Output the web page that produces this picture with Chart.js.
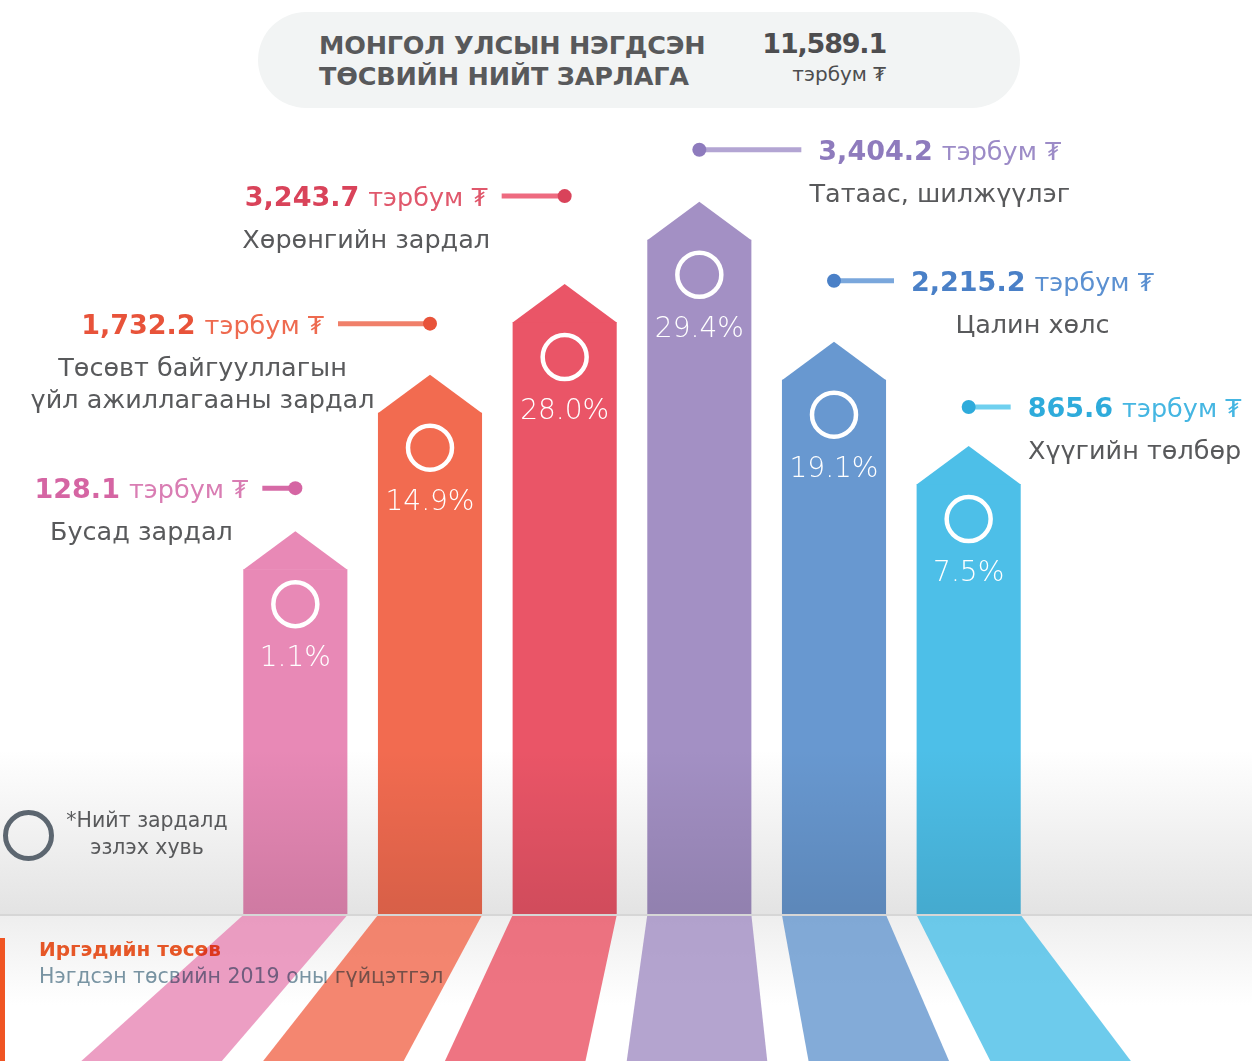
<!DOCTYPE html>
<html lang="mn">
<head>
    <meta charset="UTF-8">
    <title>Монгол улсын нэгдсэн төсвийн нийт зарлага</title>
    <script src="https://cdn.jsdelivr.net/npm/chart.js"></script>
    <style>
        body {
            margin: 0;
            background: #ffffff;
            font-family: "DejaVu Sans", sans-serif;
        }
        #wrap {
            position: relative;
            width: 1252px;
            height: 1061px;
            overflow: hidden;
        }
        #chart {
            position: absolute;
            left: 0;
            top: 0;
        }
        .header {
            position: absolute;
            left: 258px;
            top: 12px;
            width: 762px;
            height: 96px;
            border-radius: 48px;
            background: #f2f4f4;
        }
        .header .title {
            position: absolute;
            left: 61px;
            top: 18px;
            font-size: 25.5px;
            font-weight: bold;
            line-height: 31px;
            color: #58595b;
            letter-spacing: -0.2px;
        }
        .header .total {
            position: absolute;
            right: 134px;
            top: 16px;
            text-align: right;
            color: #4d4d4f;
        }
        .header .total b {
            display: block;
            font-size: 27px;
            letter-spacing: -1.2px;
        }
        .header .total span {
            display: block;
            font-size: 20px;
            margin-top: 3px;
        }
        .legend-ring {
            position: absolute;
            left: 3px;
            top: 810px;
            width: 41px;
            height: 41px;
            border: 5px solid #5c6670;
            border-radius: 50%;
        }
        .legend-text {
            position: absolute;
            left: 57px;
            top: 807px;
            width: 180px;
            text-align: center;
            font-size: 20.5px;
            line-height: 27px;
            color: #58595b;
        }
        .footer-bar {
            position: absolute;
            left: 0;
            top: 938px;
            width: 5px;
            height: 123px;
            background: #f05523;
        }
        .footer {
            position: absolute;
            left: 39px;
            top: 936px;
            mix-blend-mode: multiply;
        }
        .footer b {
            display: block;
            font-size: 20px;
            color: #f05a28;
            line-height: 27px;
        }
        .footer span {
            display: block;
            font-size: 20.5px;
            color: #7b97a6;
            line-height: 26px;
        }
    </style>
</head>
<body>
<div id="wrap">
    <canvas id="chart" width="1252" height="1061"></canvas>
    <div class="header">
        <div class="title">МОНГОЛ УЛСЫН НЭГДСЭН<br>ТӨСВИЙН НИЙТ ЗАРЛАГА</div>
        <div class="total"><b id="total"></b><span>тэрбум ₮</span></div>
    </div>
    <div class="legend-ring"></div>
    <div class="legend-text">*Нийт зардалд<br>эзлэх хувь</div>
    <div class="footer-bar"></div>
    <div class="footer">
        <b>Иргэдийн төсөв</b>
        <span>Нэгдсэн төсвийн 2019 оны гүйцэтгэл</span>
    </div>
</div>

<script>
    // data (тэрбум ₮)
    const totalSpending = 11589.1;
    const categories = [
        ['Бусад зардал'],
        ['Төсөвт байгууллагын', 'үйл ажиллагааны зардал'],
        ['Хөрөнгийн зардал'],
        ['Татаас, шилжүүлэг'],
        ['Цалин хөлс'],
        ['Хүүгийн төлбөр']
    ];
    const amounts = [128.1, 1732.2, 3243.7, 3404.2, 2215.2, 865.6];
    const shares = [1.1, 14.9, 28.0, 29.4, 19.1, 7.5];
    // bar heights as drawn in the infographic (not to scale with the share)
    const barLevels = [37.8, 54.9, 64.8, 73.8, 58.5, 47.1];
    const unitText = 'тэрбум ₮';

    // styles
    const barColors = ['#e889b6', '#f26b50', '#ea5567', '#a390c4', '#6898d0', '#4dbfe8'];
    const valueColors = ['#d565a3', '#e8533a', '#d9435a', '#8e7bbd', '#4a80c7', '#2eabdb'];
    const unitColors = ['#d97db3', '#ee6a4f', '#e0586c', '#9c8bc7', '#5b90d1', '#45b6e2'];
    const lineColors = ['#d66aa6', '#f0806a', '#ee6b80', '#b3a5d3', '#7aa7dc', '#6fd0ef'];
    const labelSide = ['left', 'left', 'left', 'right', 'right', 'right'];
    const labelLift = [43, 51, 88, 52, 61, 39];
    const lineLen = [33, 92, 63, 102, 60, 42];

    const fmt = v => v.toLocaleString('en-US', { minimumFractionDigits: 1, maximumFractionDigits: 1 });
    document.getElementById('total').textContent = fmt(totalSpending);

    const TIP = 38;          // arrow point height
    const VANISH_X = 706;    // perspective of the floor strips
    const SPREAD = 1.35;

    const infographic = {
        id: 'infographic',
        beforeDatasetsDraw(chart) {
            const ctx = chart.ctx;
            const base = chart.chartArea.bottom;
            const H = chart.height;
            ctx.save();
            // floor
            let g = ctx.createLinearGradient(0, base, 0, base + 90);
            g.addColorStop(0, '#eeeeee');
            g.addColorStop(1, '#ffffff');
            ctx.fillStyle = g;
            ctx.fillRect(0, base, chart.width, H - base);
            // floor strips
            const meta = chart.getDatasetMeta(0);
            meta.data.forEach((bar, i) => {
                const l = bar.x - bar.width / 2, r = bar.x + bar.width / 2;
                const k = 1 + (SPREAD - 1) * (H - base) / 146;
                ctx.globalAlpha = 0.82;
                ctx.fillStyle = barColors[i];
                ctx.beginPath();
                ctx.moveTo(l, base);
                ctx.lineTo(r, base);
                ctx.lineTo(VANISH_X + (r - VANISH_X) * k, H);
                ctx.lineTo(VANISH_X + (l - VANISH_X) * k, H);
                ctx.closePath();
                ctx.fill();
            });
            ctx.restore();
        },
        afterDatasetsDraw(chart) {
            const ctx = chart.ctx;
            const base = chart.chartArea.bottom;
            const meta = chart.getDatasetMeta(0);
            ctx.save();
            meta.data.forEach((bar, i) => {
                const l = bar.x - bar.width / 2, r = bar.x + bar.width / 2;
                // arrow head
                ctx.fillStyle = barColors[i];
                ctx.beginPath();
                ctx.moveTo(l, bar.y + 0.5);
                ctx.lineTo(bar.x, bar.y - TIP);
                ctx.lineTo(r, bar.y + 0.5);
                ctx.closePath();
                ctx.fill();
                // ring + share
                ctx.strokeStyle = '#ffffff';
                ctx.lineWidth = 4.5;
                ctx.beginPath();
                ctx.arc(bar.x, bar.y + 35, 22, 0, Math.PI * 2);
                ctx.stroke();
                ctx.fillStyle = '#ffffff';
                ctx.font = '200 28px "DejaVu Sans"';
                ctx.textAlign = 'center';
                ctx.textBaseline = 'middle';
                ctx.fillText(shares[i].toFixed(1) + '%', bar.x, bar.y + 90);
            });

            // shade toward the floor
            let g = ctx.createLinearGradient(0, base - 165, 0, base);
            g.addColorStop(0, '#ffffff');
            g.addColorStop(1, '#e3e3e3');
            ctx.globalCompositeOperation = 'multiply';
            ctx.fillStyle = g;
            ctx.fillRect(0, base - 165, chart.width, 165);
            ctx.globalCompositeOperation = 'source-over';
            ctx.fillStyle = '#d6d6d6';
            ctx.fillRect(0, base - 1, chart.width, 2);

            // value labels
            meta.data.forEach((bar, i) => {
                const dotY = bar.y - TIP - labelLift[i];
                const dir = labelSide[i] === 'left' ? -1 : 1;
                const lineEnd = bar.x + dir * lineLen[i];
                ctx.strokeStyle = lineColors[i];
                ctx.lineWidth = 5;
                ctx.beginPath();
                ctx.moveTo(bar.x, dotY);
                ctx.lineTo(lineEnd, dotY);
                ctx.stroke();
                ctx.fillStyle = valueColors[i];
                ctx.beginPath();
                ctx.arc(bar.x, dotY, 7, 0, Math.PI * 2);
                ctx.fill();

                const valueFont = 'bold 27px "DejaVu Sans"';
                const unitFont = '25.5px "DejaVu Sans"';
                const valueStr = fmt(amounts[i]);
                ctx.font = valueFont;
                const vw = ctx.measureText(valueStr).width;
                ctx.font = unitFont;
                const uw = ctx.measureText(unitText).width;
                const gap = 9;
                const total = vw + gap + uw;
                const startX = dir < 0 ? lineEnd - 14 - total : lineEnd + 17;
                const baseY = dotY + 10;
                ctx.textBaseline = 'alphabetic';
                ctx.textAlign = 'left';
                ctx.font = valueFont;
                ctx.fillStyle = valueColors[i];
                ctx.fillText(valueStr, startX, baseY);
                ctx.font = unitFont;
                ctx.fillStyle = unitColors[i];
                ctx.fillText(unitText, startX + vw + gap, baseY);

                ctx.font = '25.5px "DejaVu Sans"';
                ctx.fillStyle = '#58595b';
                ctx.textAlign = 'center';
                const cx = startX + total / 2;
                categories[i].forEach((line, j) => {
                    ctx.fillText(line, cx, baseY + 42 + j * 32);
                });
            });
            ctx.restore();
        }
    };

    new Chart(document.getElementById('chart'), {
        type: 'bar',
        data: {
            labels: categories,
            datasets: [{
                data: barLevels,
                backgroundColor: barColors,
                borderWidth: 0,
                barPercentage: 0.773,
                categoryPercentage: 1
            }]
        },
        options: {
            responsive: false,
            animation: false,
            devicePixelRatio: 1,
            layout: { padding: { left: 228, right: 216, top: 0, bottom: 146 } },
            scales: {
                x: { display: false },
                y: { display: false, min: 0, max: 100 }
            },
            plugins: {
                legend: { display: false },
                tooltip: { enabled: false }
            }
        },
        plugins: [infographic]
    });
</script>
</body>
</html>
